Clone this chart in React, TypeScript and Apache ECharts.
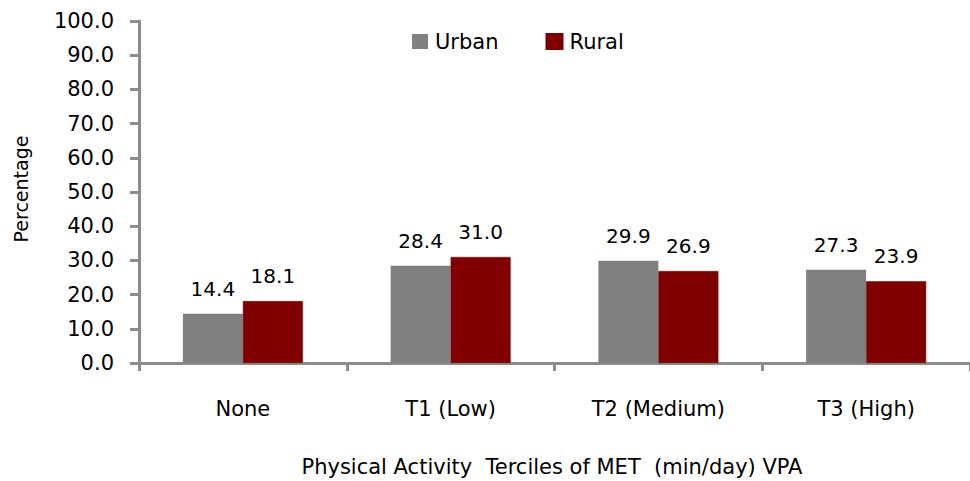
import React, { useEffect, useRef } from "react";
import * as echarts from "echarts";

const categories = ["None", "T1 (Low)", "T2 (Medium)", "T3 (High)"];
const urbanValues = [14.4, 28.4, 29.9, 27.3];
const ruralValues = [18.1, 31.0, 26.9, 23.9];
const seriesNames = ["Urban", "Rural"];
const yTitle = "Percentage";
const xTitle = "Physical Activity  Terciles of MET  (min/day) VPA";

const FONT = "DejaVu Sans";

export default function App() {
  const ref = useRef<HTMLDivElement>(null);
  useEffect(() => {
    if (!ref.current) return;
    const chart = echarts.init(ref.current, null, { renderer: "svg" });
    const labelCfg = {
      show: true,
      position: "top",
      distance: 15,
      color: "#000",
      fontFamily: FONT,
      fontSize: 20,
      formatter: (p: any) => Number(p.value).toFixed(1),
    };
    chart.setOption({
      animation: false,
      backgroundColor: "#fff",
      grid: { left: 139, top: 21, bottom: 118, right: -8, containLabel: false },
      legend: {
        data: seriesNames,
        left: 412,
        top: 31,
        padding: 0,
        itemWidth: 16,
        itemHeight: 15,
        itemGap: 47,
        icon: "rect",
        textStyle: { fontFamily: FONT, fontSize: 21, color: "#000", padding: [0, 0, 0, 2] },
      },
      xAxis: {
        type: "category",
        data: categories,
        axisLine: { show: true, lineStyle: { color: "#8c8c8c", width: 3 } },
        axisTick: { show: true, length: 8, lineStyle: { color: "#8c8c8c", width: 3 } },
        axisLabel: { fontFamily: FONT, fontSize: 21, color: "#000", margin: 35 },
        splitLine: { show: false },
      },
      yAxis: {
        type: "value",
        min: 0,
        max: 100,
        interval: 10,
        axisLine: { show: true, lineStyle: { color: "#8c8c8c", width: 3 } },
        axisTick: { show: true, length: 9, lineStyle: { color: "#8c8c8c", width: 3 } },
        axisLabel: {
          fontFamily: FONT,
          fontSize: 21,
          color: "#000",
          margin: 25,
          formatter: (v: number) => v.toFixed(1),
        },
        splitLine: { show: false },
      },
      series: [
        {
          name: seriesNames[0],
          type: "bar",
          data: urbanValues,
          barWidth: 60,
          barGap: "0%",
          itemStyle: { color: "#808080" },
          label: labelCfg,
        },
        {
          name: seriesNames[1],
          type: "bar",
          data: ruralValues,
          barWidth: 60,
          barGap: "0%",
          itemStyle: { color: "#800000", borderColor: "#7a0000", borderWidth: 0.5 },
          label: labelCfg,
        },
      ],
      graphic: [
        {
          type: "text",
          x: 21,
          y: 189,
          rotation: Math.PI / 2,
          style: {
            text: yTitle,
            fontFamily: FONT,
            fontSize: 19,
            fill: "#000",
            textAlign: "center",
            textVerticalAlign: "middle",
          },
        },
        {
          type: "text",
          x: 552,
          y: 467,
          style: {
            text: xTitle,
            fontFamily: FONT,
            fontSize: 21,
            fill: "#000",
            textAlign: "center",
            textVerticalAlign: "middle",
          },
        },
      ],
    });
    return () => chart.dispose();
  }, []);
  return (
    <div
      ref={ref}
      style={{ position: "fixed", left: 0, top: 0, width: 970, height: 481, background: "#fff" }}
    />
  );
}
